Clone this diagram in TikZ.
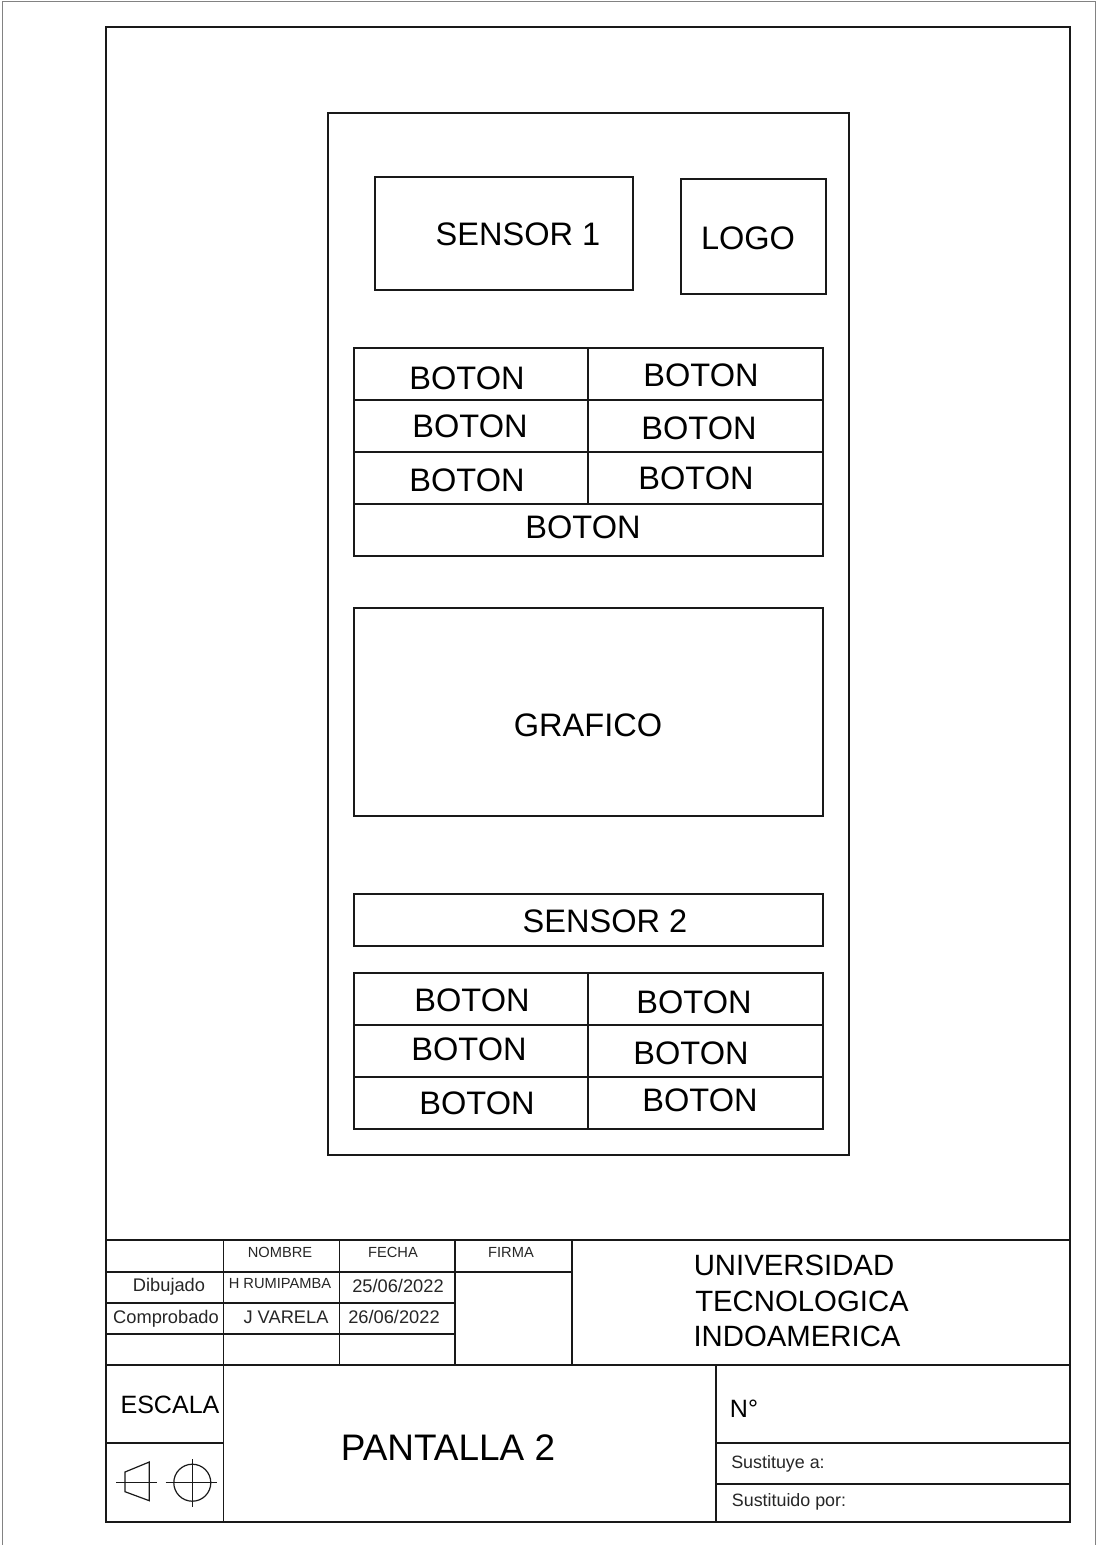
\documentclass[tikz,border=0pt]{standalone}
\usepackage{fontspec}
\setmainfont{Liberation Sans}
\usepackage{tikz}
\definecolor{lineColor}{RGB}{25,25,25}
\definecolor{sheetColor}{RGB}{130,130,130}
\tikzset{
  wire/.style={draw=lineColor, line width=0.9pt},
  bigtext/.style={inner sep=0pt, text=black, font=\fontsize{24.4}{24.4}\selectfont},
  titletext/.style={inner sep=0pt, text=black, font=\fontsize{27.7}{27.7}\selectfont},
  schooltext/.style={inner sep=0pt, text=black, font=\fontsize{22}{22}\selectfont},
  scaletext/.style={inner sep=0pt, text=black, font=\fontsize{18.8}{18.8}\selectfont},
  celltext/.style={inner sep=0pt, text=black!85, font=\fontsize{13.7}{13.7}\selectfont},
  headtext/.style={inner sep=0pt, text=black!85, font=\fontsize{11}{11}\selectfont},
}
\begin{document}
\begin{tikzpicture}[x=0.75pt, y=-0.75pt]
        \useasboundingbox (0,0) rectangle (1096,1545);
        \fill[white] (0,0) rectangle (1096,1545);
        % Sheet edge and inner frame
        \draw[sheetColor, line width=0.9pt] (2.5,1.5) rectangle (1095.5,1560);
        \draw[wire] (106,27) rectangle (1070,1522);
        % Screen outline
        \draw[wire] (328,113) rectangle (849,1155);
        % Top row
        \draw[wire] (375,177) rectangle (633,290);
        \draw[wire] (681,179) rectangle (826,294);
        \node[bigtext] (sensorA) at (518,234) {SENSOR 1};
        \node[bigtext] (logo) at (748,238) {LOGO};
        % First button table
        \draw[wire] (354,348) rectangle (823,556);
        \draw[wire] (354,400) -- (823,400);
        \draw[wire] (354,452) -- (823,452);
        \draw[wire] (354,504) -- (823,504);
        \draw[wire] (588,348) -- (588,504);
        \node[bigtext] (botonA) at (467,378) {BOTON};
        \node[bigtext] (botonB) at (701,375) {BOTON};
        \node[bigtext] (botonC) at (470,426) {BOTON};
        \node[bigtext] (botonD) at (699,428) {BOTON};
        \node[bigtext] (botonE) at (467,480) {BOTON};
        \node[bigtext] (botonF) at (696,478) {BOTON};
        \node[bigtext] (botonG) at (583,527) {BOTON};
        % Chart area
        \draw[wire] (354,608) rectangle (823,816);
        \node[bigtext] (grafico) at (588,725) {GRAFICO};
        % Second sensor
        \draw[wire] (354,894) rectangle (823,946);
        \node[bigtext] (sensorB) at (605,921) {SENSOR 2};
        % Second button table
        \draw[wire] (354,973) rectangle (823,1129);
        \draw[wire] (354,1025) -- (823,1025);
        \draw[wire] (354,1077) -- (823,1077);
        \draw[wire] (588,973) -- (588,1129);
        \node[bigtext] (botonH) at (472,1000) {BOTON};
        \node[bigtext] (botonI) at (694,1002) {BOTON};
        \node[bigtext] (botonJ) at (469,1049) {BOTON};
        \node[bigtext] (botonK) at (691,1053) {BOTON};
        \node[bigtext] (botonL) at (477,1103) {BOTON};
        \node[bigtext] (botonM) at (700,1100) {BOTON};
        % Title block, upper part
        \draw[wire] (106,1240) -- (1070,1240);
        \draw[wire] (106,1365) -- (1070,1365);
        \draw[wire] (106,1272) -- (572,1272);
        \draw[wire] (106,1303) -- (455,1303);
        \draw[wire] (106,1334) -- (455,1334);
        \draw[wire] (223.5,1240) -- (223.5,1522);
        \draw[wire] (339.5,1240) -- (339.5,1365);
        \draw[wire] (455,1240) -- (455,1365);
        \draw[wire] (572,1240) -- (572,1365);
        \node[headtext] (nombre) at (280,1252) {NOMBRE};
        \node[headtext] (fecha) at (393,1252) {FECHA};
        \node[headtext] (firma) at (511,1252) {FIRMA};
        \node[celltext] (dibujado) at (169,1287) {Dibujado};
        \node[celltext] (comprobado) at (166,1319) {Comprobado};
        \node[headtext] (autor) at (280,1284) {H RUMIPAMBA};
        \node[celltext] (fechaA) at (398,1286) {25/06/2022};
        \node[celltext] (revisor) at (286,1317) {J VARELA};
        \node[celltext] (fechaB) at (394,1317) {26/06/2022};
        \node[schooltext] (uniA) at (794,1265) {UNIVERSIDAD};
        \node[schooltext] (uniB) at (802,1301) {TECNOLOGICA};
        \node[schooltext] (uniC) at (797,1336) {INDOAMERICA};
        % Title block, lower part
        \draw[wire] (106,1443) -- (223.5,1443);
        \draw[wire] (716,1365) -- (716,1522);
        \draw[wire] (716,1443) -- (1070,1443);
        \draw[wire] (716,1484) -- (1070,1484);
        \node[scaletext] (escala) at (170,1405) {ESCALA};
        \node[titletext] (pantalla) at (448,1448) {PANTALLA 2};
        \node[scaletext] (numero) at (744,1409) {N°};
        \node[celltext, font=\fontsize{13.4}{13.4}\selectfont] (sustituye) at (778,1464) {Sustituye a:};
        \node[celltext, font=\fontsize{13.4}{13.4}\selectfont] (sustituido) at (789,1502) {Sustituido por:};
        % Projection symbol
        \draw[wire] (149.3,1462) -- (149.3,1500.7) -- (125,1491.7) -- (125,1472) -- cycle;
        \draw[wire] (116,1482.7) -- (156.7,1482.7);
        \draw[wire] (192.3,1482.7) circle (18.5);
        \draw[wire] (165.7,1482.7) -- (216.7,1482.7);
        \draw[wire] (192.3,1459.3) -- (192.3,1506.7);
      \end{tikzpicture}
\end{document}
